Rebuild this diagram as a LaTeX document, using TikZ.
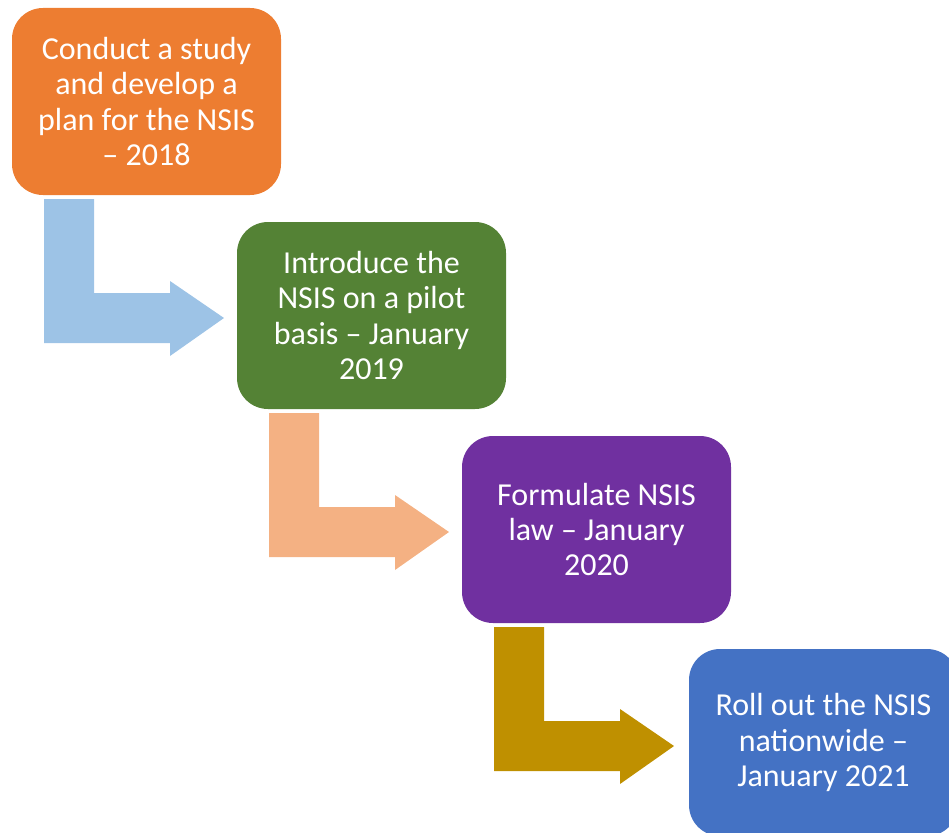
\documentclass[tikz,border=0pt]{standalone}
\usepackage{fontspec}
\setmainfont{Carlito}
\usetikzlibrary{calc}
\definecolor{cOrange}{HTML}{ED7D31}
\definecolor{cGreen}{HTML}{548235}
\definecolor{cPurple}{HTML}{7030A0}
\definecolor{cBlue}{HTML}{4472C4}
\definecolor{aBlue}{HTML}{9DC3E6}
\definecolor{aPeach}{HTML}{F4B183}
\definecolor{aGold}{HTML}{BF9000}
\tikzset{
  stagebox/.style={rectangle, rounded corners=31pt, minimum width=269pt, minimum height=187pt,
    inner sep=0pt, outer sep=0pt, fill=#1, text=white, align=center,
    font=\fontsize{32}{35.3}\selectfont},
  pics/bentarrow/.style={code={
    \fill[#1] (0,0) -- (50,0) -- (50,94) -- (126,94) -- (126,82) -- (180,119)
      -- (126,157) -- (126,144) -- (0,144) -- cycle;}}
}
\begin{document}
\begin{tikzpicture}[x=1pt,y=-1pt]
\useasboundingbox (0,0) rectangle (949,832);
\clip (0,0) rectangle (949,832);
\node[stagebox=cOrange] (b1) at (146.5,101.5) {Conduct a study\\and develop a\\plan for the NSIS\\– 2018};
\node[stagebox=cGreen] (b2) at (371.5,315.5) {Introduce the\\NSIS on a pilot\\basis – January\\2019};
\node[stagebox=cPurple] (b3) at (596.5,529.5) {Formulate NSIS\\law – January\\2020};
\node[stagebox=cBlue] (b4) at (823.5,742.5) {Roll out the NSIS\\nationwide –\\January 2021};
\pic at ($(b1.south west)+(32,4)$) {bentarrow=aBlue};
\pic at ($(b2.south west)+(32,4)$) {bentarrow=aPeach};
\pic at ($(b3.south west)+(32,4)$) {bentarrow=aGold};
\end{tikzpicture}
\end{document}
